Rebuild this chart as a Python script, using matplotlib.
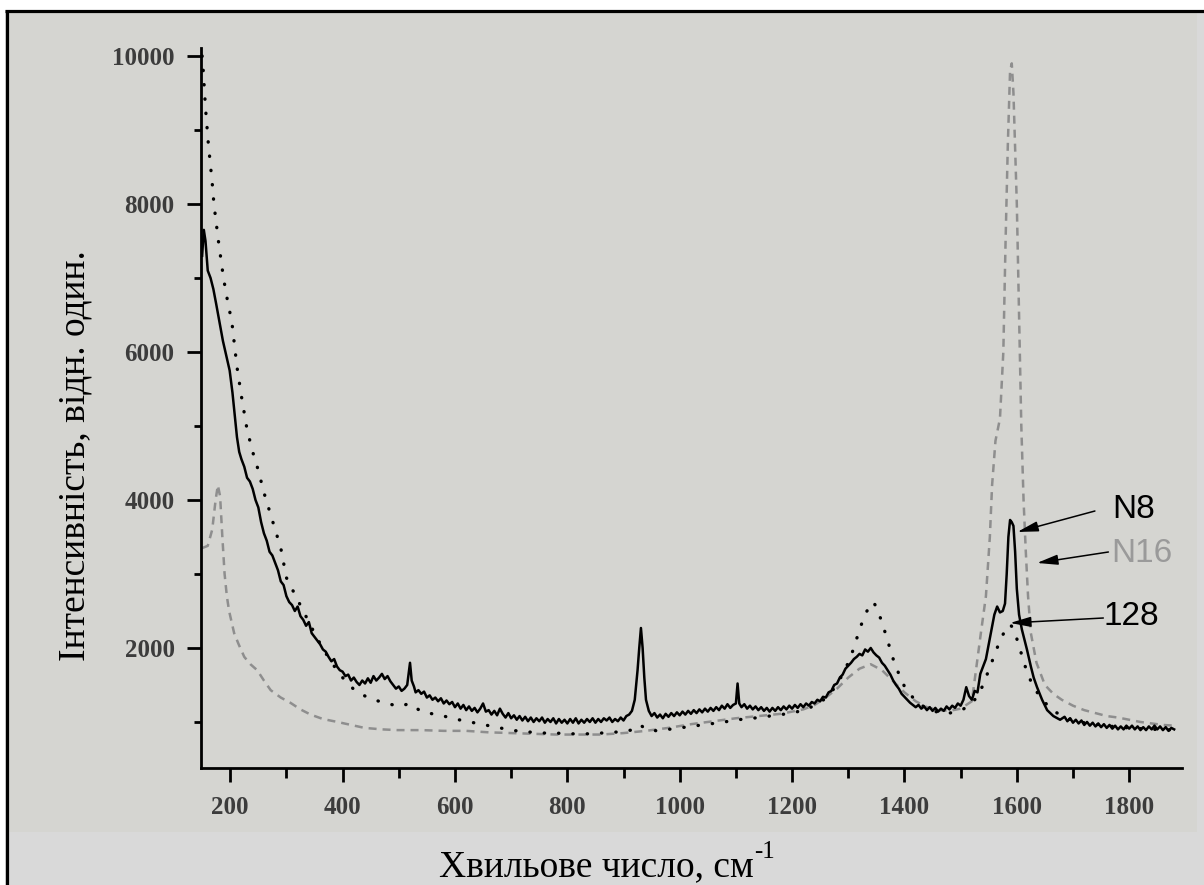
# -*- coding: utf-8 -*-
import matplotlib
matplotlib.use('Agg')
import matplotlib.pyplot as plt
from matplotlib.patches import Rectangle
from matplotlib.lines import Line2D
from matplotlib.ticker import MultipleLocator
################################################################################
# spectra, (wavenumber, intensity) pairs
n8 = [(150, 7300), (153, 7650), (156, 7500), (160, 7100), (165, 7000), (170, 6850),
      (175, 6650), (181, 6400), (187, 6150), (193, 5950), (199, 5750), (204, 5450),
      (208, 5150), (212, 4850), (216, 4650), (220, 4550), (225, 4450), (230, 4300),
      (235, 4250), (240, 4150), (245, 4000), (250, 3900), (255, 3700), (260, 3550),
      (265, 3450), (270, 3300), (275, 3250), (280, 3150), (285, 3050), (290, 2900),
      (295, 2850), (300, 2700), (305, 2620), (310, 2580), (315, 2500), (320, 2560),
      (325, 2430), (330, 2380), (335, 2300), (340, 2350), (345, 2200), (350, 2150),
      (355, 2100), (360, 2050), (365, 1980), (370, 1950), (375, 1880), (380, 1820),
      (385, 1850), (390, 1750), (395, 1700), (400, 1680), (405, 1620), (410, 1640),
      (415, 1560), (420, 1600), (425, 1540), (430, 1500), (435, 1560), (440, 1520),
      (445, 1590), (450, 1530), (455, 1620), (460, 1560), (465, 1600), (470, 1650),
      (475, 1580), (480, 1620), (485, 1550), (490, 1500), (495, 1450), (500, 1480),
      (505, 1420), (510, 1450), (515, 1500), (520, 1800), (523, 1560), (527, 1480),
      (530, 1400), (535, 1430), (540, 1380), (545, 1410), (550, 1330), (555, 1360),
      (560, 1300), (565, 1330), (570, 1280), (575, 1320), (580, 1250), (585, 1290),
      (590, 1240), (595, 1270), (600, 1200), (605, 1250), (610, 1180), (615, 1230),
      (620, 1160), (625, 1210), (630, 1150), (635, 1190), (640, 1130), (645, 1180),
      (650, 1250), (655, 1140), (660, 1160), (665, 1100), (670, 1150), (675, 1090),
      (680, 1180), (685, 1110), (690, 1060), (695, 1120), (700, 1050), (705, 1090),
      (710, 1030), (715, 1080), (720, 1020), (725, 1070), (730, 1010), (735, 1060),
      (740, 1000), (745, 1050), (750, 1010), (755, 1060), (760, 990), (765, 1040),
      (770, 1000), (775, 1050), (780, 980), (785, 1040), (790, 990), (795, 1030),
      (800, 980), (805, 1040), (810, 990), (815, 1050), (820, 980), (825, 1030),
      (830, 990), (835, 1040), (840, 1000), (845, 1050), (850, 990), (855, 1040),
      (860, 1000), (865, 1050), (870, 1020), (875, 1060), (880, 1000), (885, 1040),
      (890, 1010), (895, 1060), (900, 1020), (905, 1080), (910, 1100), (915, 1150),
      (920, 1300), (925, 1700), (928, 2000), (931, 2270), (934, 2000), (937, 1600),
      (940, 1300), (945, 1150), (950, 1080), (955, 1120), (960, 1060), (965, 1100),
      (970, 1050), (975, 1110), (980, 1070), (985, 1120), (990, 1080), (995, 1130),
      (1000, 1090), (1005, 1140), (1010, 1100), (1015, 1150), (1020, 1110),
      (1025, 1160), (1030, 1120), (1035, 1170), (1040, 1130), (1045, 1180),
      (1050, 1140), (1055, 1190), (1060, 1150), (1065, 1200), (1070, 1160),
      (1075, 1220), (1080, 1180), (1085, 1240), (1090, 1190), (1095, 1230),
      (1100, 1250), (1103, 1520), (1106, 1250), (1110, 1200), (1115, 1240),
      (1120, 1180), (1125, 1220), (1130, 1170), (1135, 1210), (1140, 1160),
      (1145, 1200), (1150, 1150), (1155, 1190), (1160, 1140), (1165, 1190),
      (1170, 1150), (1175, 1200), (1180, 1160), (1185, 1210), (1190, 1170),
      (1195, 1220), (1200, 1180), (1205, 1230), (1210, 1190), (1215, 1240),
      (1220, 1200), (1225, 1250), (1230, 1220), (1235, 1270), (1240, 1250),
      (1245, 1300), (1250, 1280), (1255, 1340), (1260, 1330), (1265, 1400),
      (1270, 1420), (1275, 1500), (1280, 1520), (1285, 1600), (1290, 1640),
      (1295, 1720), (1300, 1760), (1305, 1800), (1310, 1850), (1315, 1880),
      (1320, 1920), (1325, 1900), (1330, 1980), (1335, 1950), (1340, 2000),
      (1345, 1940), (1350, 1900), (1355, 1870), (1360, 1800), (1365, 1760),
      (1370, 1700), (1375, 1640), (1380, 1560), (1385, 1500), (1390, 1450),
      (1395, 1380), (1400, 1340), (1405, 1300), (1410, 1260), (1415, 1230),
      (1420, 1200), (1425, 1230), (1430, 1180), (1435, 1210), (1440, 1160),
      (1445, 1200), (1450, 1150), (1455, 1190), (1460, 1140), (1465, 1180),
      (1470, 1150), (1475, 1210), (1480, 1170), (1485, 1220), (1490, 1190),
      (1495, 1250), (1500, 1220), (1505, 1300), (1510, 1470), (1515, 1350),
      (1520, 1300), (1525, 1420), (1530, 1400), (1535, 1650), (1540, 1750),
      (1545, 1850), (1550, 2050), (1555, 2250), (1560, 2450), (1565, 2560),
      (1570, 2480), (1575, 2500), (1579, 2600), (1582, 3000), (1585, 3500),
      (1588, 3730), (1591, 3700), (1594, 3650), (1597, 3300), (1600, 2800),
      (1604, 2450), (1609, 2250), (1614, 2100), (1618, 1980), (1625, 1750),
      (1630, 1600), (1636, 1470), (1645, 1300), (1654, 1160), (1665, 1080),
      (1677, 1030), (1685, 1070), (1690, 1010), (1695, 1050), (1700, 990),
      (1705, 1030), (1710, 980), (1715, 1020), (1720, 960), (1725, 1000),
      (1730, 950), (1735, 990), (1740, 940), (1745, 980), (1750, 930),
      (1755, 970), (1760, 920), (1765, 960), (1770, 910), (1775, 950),
      (1780, 900), (1785, 940), (1790, 900), (1795, 950), (1800, 910),
      (1805, 950), (1810, 900), (1815, 940), (1820, 890), (1825, 930),
      (1830, 890), (1835, 940), (1840, 900), (1845, 950), (1850, 900),
      (1855, 940), (1860, 890), (1865, 930), (1870, 880), (1875, 920),
      (1880, 900)]

s128 = [(150, 10000), (152, 9800), (156, 9300), (161, 8820), (168, 8280),
        (171, 8000), (179, 7500), (188, 7000), (195, 6700), (203, 6400),
        (212, 5800), (220, 5400), (230, 4950), (240, 4650), (250, 4400),
        (260, 4100), (270, 3850), (280, 3600), (290, 3350), (300, 2950),
        (310, 2800), (320, 2650), (330, 2500), (340, 2350), (350, 2200),
        (360, 2060), (370, 1930), (380, 1810), (390, 1700), (400, 1600),
        (420, 1440), (440, 1350), (460, 1290), (480, 1250), (500, 1210),
        (520, 1250), (540, 1140), (560, 1110), (580, 1080), (600, 1040),
        (620, 1010), (640, 980), (660, 950), (680, 920), (700, 890),
        (720, 870), (740, 860), (760, 850), (780, 850), (800, 840), (820, 840),
        (840, 840), (860, 850), (880, 860), (900, 870), (920, 900), (930, 960),
        (940, 900), (960, 880), (980, 900), (1000, 920), (1020, 940),
        (1040, 960), (1060, 980), (1080, 1000), (1100, 1030), (1120, 1040),
        (1140, 1060), (1160, 1080), (1180, 1100), (1200, 1120), (1220, 1160),
        (1240, 1220), (1260, 1320), (1280, 1500), (1300, 1800), (1310, 2000),
        (1320, 2250), (1330, 2450), (1340, 2600), (1345, 2620), (1350, 2550),
        (1360, 2350), (1370, 2100), (1380, 1850), (1390, 1650), (1400, 1480),
        (1420, 1280), (1440, 1180), (1460, 1130), (1480, 1120), (1500, 1150),
        (1520, 1250), (1530, 1350), (1540, 1500), (1550, 1700), (1560, 1900),
        (1570, 2100), (1580, 2250), (1588, 2320), (1595, 2250), (1605, 2000),
        (1615, 1750), (1625, 1550), (1640, 1350), (1660, 1180), (1680, 1080),
        (1700, 1020), (1720, 990), (1740, 970), (1760, 950), (1780, 930),
        (1800, 920), (1820, 910), (1840, 900), (1860, 900), (1880, 890)]

n16 = [(150, 3350), (160, 3380), (168, 3600), (174, 4000), (178, 4200), (182, 4050),
       (186, 3500), (190, 3000), (194, 2700), (198, 2500), (207, 2200), (215, 2050),
       (225, 1880), (236, 1780), (248, 1700), (260, 1560), (272, 1430), (290, 1330),
       (307, 1260), (325, 1170), (343, 1100), (365, 1040), (391, 1000), (415, 960),
       (439, 920), (470, 900), (498, 890), (540, 890), (580, 880), (620, 880),
       (660, 860), (700, 850), (740, 840), (780, 830), (820, 830), (860, 830),
       (900, 850), (940, 880), (980, 920), (1020, 970), (1060, 1010), (1100, 1050),
       (1140, 1080), (1180, 1110), (1220, 1170), (1240, 1230), (1260, 1330),
       (1280, 1450), (1300, 1600), (1320, 1720), (1340, 1780), (1360, 1700),
       (1380, 1550), (1400, 1400), (1420, 1280), (1440, 1200), (1460, 1160),
       (1480, 1150), (1500, 1180), (1520, 1280), (1536, 2200), (1545, 2700),
       (1552, 3500), (1556, 4200), (1562, 4800), (1570, 5100), (1576, 6000),
       (1580, 7500), (1584, 8800), (1588, 9800), (1591, 9900), (1594, 9500),
       (1600, 8000), (1604, 6500), (1608, 5000), (1612, 4000), (1616, 3300),
       (1620, 2700), (1625, 2200), (1635, 1800), (1650, 1500), (1665, 1380),
       (1680, 1300), (1700, 1220), (1720, 1160), (1740, 1120), (1760, 1080),
       (1780, 1060), (1800, 1030), (1820, 1000), (1840, 980), (1860, 960),
       (1880, 950)]

xticks = [200, 400, 600, 800, 1000, 1200, 1400, 1600, 1800]
yticks = [2000, 4000, 6000, 8000, 10000]
xlabel = 'Хвильове число, см'
ylabel = 'Інтенсивність, відн. один.'
################################################################################
W, H = 1204, 885
fig = plt.figure(figsize=(W / 100, H / 100), dpi=100, facecolor='white')

# grey page, grey plot panel, black frame on top and left
fig.patches.append(Rectangle((5 / W, 0), 1, (H - 10) / H, transform=fig.transFigure,
                             facecolor='#d9d9d9', edgecolor='none', zorder=-3))
fig.patches.append(Rectangle((8 / W, (H - 832) / H), 1189 / W, 820 / H,
                             transform=fig.transFigure, facecolor='#d5d5d1',
                             edgecolor='none', zorder=-2))
fig.lines.append(Line2D([6.5 / W, 6.5 / W], [0, (H - 10.5) / H], transform=fig.transFigure,
                        color='black', lw=2.3, solid_capstyle='butt'))
fig.lines.append(Line2D([5 / W, 1], [(H - 10.5) / H, (H - 10.5) / H], transform=fig.transFigure,
                        color='black', lw=2.3, solid_capstyle='butt'))

ax = fig.add_axes([201 / W, (H - 768) / H, 981 / W, 720 / H])
ax.patch.set_alpha(0)

ax.plot([p[0] for p in n16], [p[1] for p in n16], color='#8e8e8e', lw=1.8,
        dashes=(3.2, 2.4))
ax.plot([p[0] for p in s128], [p[1] for p in s128], color='black', lw=2.4,
        dashes=(0.1, 4.2), dash_capstyle='round')
ax.plot([p[0] for p in n8], [p[1] for p in n8], color='black', lw=1.8)

ax.set_xlim(148, 1894)
ax.set_ylim(378, 10108)
ax.spines['top'].set_visible(False)
ax.spines['right'].set_visible(False)
ax.spines['left'].set_linewidth(2)
ax.spines['bottom'].set_linewidth(2)

ax.set_xticks(xticks)
ax.set_yticks(yticks)
ax.xaxis.set_minor_locator(MultipleLocator(100))
ax.yaxis.set_minor_locator(MultipleLocator(1000))
ax.tick_params(which='major', direction='out', length=10, width=2, color='black')
ax.tick_params(axis='x', which='minor', direction='out', length=7, width=2)
ax.tick_params(axis='y', which='minor', direction='out', length=5, width=2)
ax.tick_params(axis='x', which='major', pad=10)
ax.tick_params(axis='y', which='major', pad=9)
for lab in ax.get_xticklabels() + ax.get_yticklabels():
    lab.set_fontfamily('Liberation Serif')
    lab.set_fontsize(18)
    lab.set_fontweight('bold')
    lab.set_color('#3c3c3c')

# arrows and sample names
arrow = dict(arrowstyle='-|>,head_length=0.9,head_width=0.22', color='black',
             lw=1.1, mutation_scale=14, shrinkA=0, shrinkB=0)
ax.annotate('', xy=(1601, 3568), xytext=(1739, 3851), arrowprops=arrow)
ax.annotate('', xy=(1636, 3149), xytext=(1763, 3297), arrowprops=arrow)
ax.annotate('', xy=(1588, 2338), xytext=(1754, 2405), arrowprops=arrow)
ax.text(1769, 3757, 'N8', fontsize=24, family='Liberation Sans', va='baseline', color='black')
ax.text(1768, 3162, 'N16', fontsize=24, family='Liberation Sans', va='baseline', color='#9a9a9a')
ax.text(1755, 2311, '128', fontsize=24, family='Liberation Sans', va='baseline', color='black')

# axis titles
fig.text(75 / W, (H - 456) / H, ylabel, rotation=90, ha='center', va='center',
         family='Liberation Serif', fontsize=27)
xt = fig.text(596 / W, (H - 876) / H, xlabel, ha='center', va='baseline',
              family='Liberation Serif', fontsize=27)
fig.canvas.draw()
bb = xt.get_window_extent()
fig.text((bb.x1 + 1) / W, (H - 858) / H, '-1', ha='left', va='baseline',
         family='Liberation Serif', fontsize=18)

plt.savefig('out.png', dpi=100, facecolor=fig.get_facecolor())
